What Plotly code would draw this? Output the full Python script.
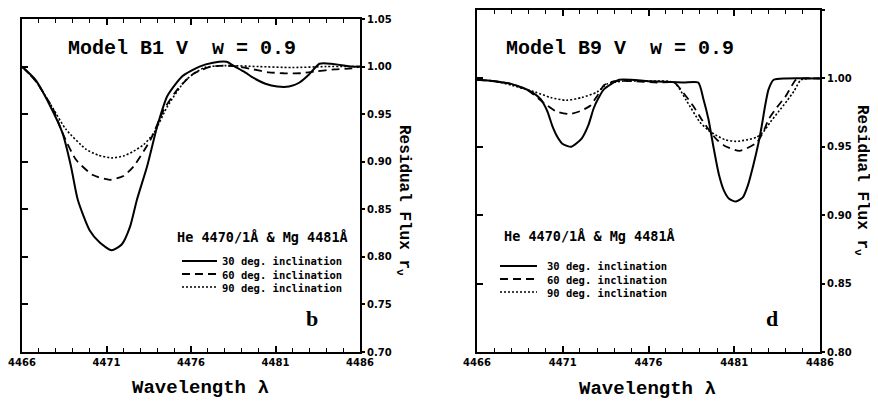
import plotly.graph_objects as go

# ---------------- data ----------------
b1_x30 = [4466.0, 4466.8, 4467.6, 4468.4, 4468.9, 4469.3, 4470.0, 4470.6, 4471.3, 4471.9, 4472.4, 4472.8,
          4473.4, 4474.0, 4474.6, 4475.5, 4476.5, 4477.3, 4478.1, 4478.6, 4479.2, 4479.7, 4480.4, 4481.1,
          4481.8, 4482.4, 4483.0, 4483.6, 4484.3, 4485.5, 4486.0]
b1_y30 = [1.000, 0.986, 0.961, 0.930, 0.895, 0.860, 0.828, 0.815, 0.807, 0.813, 0.832, 0.860,
          0.895, 0.937, 0.969, 0.990, 1.000, 1.004, 1.005, 1.000, 0.994, 0.988, 0.982, 0.979,
          0.979, 0.983, 0.992, 1.003, 1.003, 1.000, 1.000]
b1_x60 = [4466.0, 4466.8, 4467.85, 4468.4, 4469.2, 4470.2, 4471.2, 4472.0, 4472.6, 4473.6, 4474.4, 4475.2,
          4476.1, 4477.2, 4478.0, 4478.8, 4479.7, 4480.6, 4481.5, 4482.5, 4483.4, 4484.5, 4485.5, 4486.0]
b1_y60 = [1.000, 0.985, 0.955, 0.930, 0.902, 0.886, 0.881, 0.885, 0.895, 0.923, 0.955, 0.976,
          0.992, 1.000, 1.001, 1.000, 0.997, 0.994, 0.993, 0.993, 0.995, 0.997, 0.998, 1.000]
b1_x90 = [4466.0, 4466.8, 4467.8, 4468.6, 4469.8, 4470.5, 4471.3, 4472.0, 4472.6, 4473.2, 4473.8, 4474.6,
          4475.7, 4476.8, 4478.0, 4480.0, 4482.0, 4484.0, 4486.0]
b1_y90 = [1.000, 0.985, 0.957, 0.934, 0.913, 0.907, 0.904, 0.906, 0.911, 0.918, 0.930, 0.958,
          0.986, 0.999, 1.001, 1.000, 0.999, 1.000, 1.000]

b9_x30 = [4466.0, 4467.0, 4468.0, 4468.7, 4469.2, 4469.7, 4470.1, 4470.4, 4470.7, 4471.0, 4471.5, 4472.1,
          4472.5, 4472.8, 4473.1, 4473.4, 4474.3, 4476.0, 4478.0, 4478.9, 4479.2, 4479.5, 4479.8, 4480.1,
          4480.4, 4480.7, 4481.1, 4481.5, 4481.8, 4482.1, 4482.4, 4482.6, 4482.8, 4483.0, 4483.3, 4484.0, 4486.0]
b9_y30 = [0.999, 0.998, 0.996, 0.993, 0.990, 0.985, 0.976, 0.965, 0.957, 0.952, 0.950, 0.956,
          0.966, 0.978, 0.986, 0.992, 0.999, 0.998, 0.997, 0.997, 0.985, 0.970, 0.949, 0.930,
          0.918, 0.912, 0.910, 0.913, 0.922, 0.936, 0.952, 0.965, 0.980, 0.992, 0.999, 1.000, 1.000]
b9_x60 = [4466.0, 4467.0, 4468.0, 4469.0, 4469.9, 4470.6, 4471.4, 4472.0, 4472.6, 4473.0, 4473.4, 4474.0,
          4475.0, 4476.5, 4477.5, 4478.0, 4478.6, 4479.1, 4479.6, 4480.0, 4480.4, 4481.3, 4482.3, 4482.7,
          4483.0, 4483.5, 4484.0, 4484.6, 4485.0, 4486.0]
b9_y60 = [0.999, 0.998, 0.996, 0.991, 0.982, 0.976, 0.974, 0.976, 0.980, 0.987, 0.995, 0.998,
          0.998, 0.997, 0.997, 0.990, 0.980, 0.970, 0.961, 0.955, 0.951, 0.947, 0.953, 0.961,
          0.970, 0.979, 0.987, 0.999, 1.000, 1.000]
b9_x90 = [4466.0, 4467.0, 4468.0, 4469.4, 4470.3, 4471.2, 4472.1, 4473.0, 4473.6, 4474.5, 4476.0, 4477.5,
          4478.2, 4479.0, 4479.5, 4480.0, 4480.5, 4481.1, 4481.7, 4482.3, 4482.7, 4483.1, 4483.6, 4484.1,
          4484.5, 4484.9, 4486.0]
b9_y90 = [0.999, 0.998, 0.995, 0.990, 0.986, 0.984, 0.986, 0.990, 0.996, 0.998, 0.998, 0.997,
          0.984, 0.968, 0.962, 0.958, 0.955, 0.954, 0.955, 0.957, 0.961, 0.968, 0.976, 0.984,
          0.991, 0.999, 1.000]

x_range = [4466, 4486]
y1_range = [0.70, 1.05]
y2_range = [0.80, 1.05]
series_labels = ["30 deg. inclination", "60 deg. inclination", "90 deg. inclination"]
panel_titles = ["Model B1 V\u00a0\u00a0w\u00a0=\u00a00.9", "Model B9 V\u00a0\u00a0w\u00a0=\u00a00.9"]
panel_letters = ["b", "d"]
line_note = "He 4470/1Å & Mg 4481Å"
x_title = "Wavelength λ"
y_title = "Residual Flux r<sub>ν</sub>"

# ---------------- figure ----------------
# the page body has an 8px margin, so the figure is 870x393 and positions are offset by 8px
OFF = 8
W, H = 878 - OFF, 401 - OFF
def px(x): return (x - OFF) / W
def py(y): return 1 - (y - OFF) / H

dashes = ["solid", "8px,5px", "2px,2px"]
widths = [2.0, 1.8, 1.6]

fig = go.Figure()
panels = [
    ("x", "y", [(b1_x30, b1_y30), (b1_x60, b1_y60), (b1_x90, b1_y90)]),
    ("x2", "y2", [(b9_x30, b9_y30), (b9_x60, b9_y60), (b9_x90, b9_y90)]),
]
for xa, ya, curves in panels:
    for i, (xs, ys) in enumerate(curves):
        fig.add_trace(go.Scatter(x=xs, y=ys, xaxis=xa, yaxis=ya, mode="lines",
                                 line=dict(color="black", width=widths[i], dash=dashes[i],
                                           shape="spline", smoothing=0.6),
                                 name=series_labels[i], showlegend=False, hoverinfo="skip"))

tickfont = dict(family="DejaVu Sans", size=10, color="black", weight="bold")
xcommon = dict(range=x_range, tickmode="linear", tick0=4466, dtick=5, ticks="inside",
               ticklen=6, tickwidth=1.5, tickcolor="black", mirror="ticks", showline=True,
               linecolor="black", linewidth=2, showgrid=False, zeroline=False, tickfont=tickfont,
               automargin=False,
               minor=dict(tick0=4466, dtick=1, ticks="inside", ticklen=4, tickwidth=1.2,
                          tickcolor="black", showgrid=False))
ycommon = dict(side="right", ticks="outside", ticklen=3, tickwidth=1.5, tickcolor="black",
               showline=True, linecolor="black", linewidth=2, mirror=True, showgrid=False,
               zeroline=False, tickfont=tickfont, tickformat=".2f", tickmode="linear",
               dtick=0.05, automargin=False)
yinner = dict(side="left", ticks="inside", ticklen=6, tickwidth=1.5, tickcolor="black",
              showticklabels=False, showline=False, showgrid=False, zeroline=False,
              tickmode="linear", dtick=0.05, automargin=False)

fig.update_layout(
    width=W, height=H, margin=dict(l=0, r=0, t=0, b=0, autoexpand=False),
    paper_bgcolor="white", plot_bgcolor="white", showlegend=False,
    xaxis=dict(domain=[px(22), px(360)], anchor="y", **xcommon),
    xaxis2=dict(domain=[px(477), px(820)], anchor="y2", **xcommon),
    yaxis=dict(domain=[py(352), py(19)], anchor="x", range=y1_range, tick0=0.70, **ycommon),
    yaxis2=dict(domain=[py(352), py(10)], anchor="x2", range=y2_range, tick0=0.80, **ycommon),
    yaxis3=dict(overlaying="y", anchor="x", range=y1_range, tick0=0.70, **yinner),
    yaxis4=dict(overlaying="y2", anchor="x2", range=y2_range, tick0=0.80, **yinner),
)
fig.add_trace(go.Scatter(x=[4466], y=[1.0], xaxis="x", yaxis="y3", mode="lines",
                         showlegend=False, hoverinfo="skip"))
fig.add_trace(go.Scatter(x=[4466], y=[1.0], xaxis="x2", yaxis="y4", mode="lines",
                         showlegend=False, hoverinfo="skip"))

mono_serif = "Liberation Mono"
title_font = dict(family=mono_serif, size=20, color="black", weight="bold")
note_font = dict(family="DejaVu Sans Mono", size=13.5, color="black", weight="bold")
leg_font = dict(family="DejaVu Sans Mono", size=10.5, color="black", weight="bold")

panel_geo = [
    dict(title=(182, 48), xtitle=(200, 388), ytitle=(403, 200), letter=(312, 318), note=(175, 237),
         leg_x=(182, 217), leg_y=[261, 274, 287], leg_tx=220),
    dict(title=(620, 48), xtitle=(647, 389), ytitle=(862, 180), letter=(772, 318), note=(502, 236),
         leg_x=(500, 537), leg_y=[266, 279, 292], leg_tx=545),
]
for k, g in enumerate(panel_geo):
    fig.add_annotation(x=px(g["title"][0]), y=py(g["title"][1]), xref="paper", yref="paper",
                       text=panel_titles[k], showarrow=False, font=title_font,
                       xanchor="center", yanchor="middle")
    fig.add_annotation(x=px(g["xtitle"][0]), y=py(g["xtitle"][1]), xref="paper", yref="paper",
                       text=x_title, showarrow=False,
                       font=dict(family=mono_serif, size=19, color="black", weight="bold"),
                       xanchor="center", yanchor="middle")
    fig.add_annotation(x=px(g["ytitle"][0]), y=py(g["ytitle"][1]), xref="paper", yref="paper",
                       text=y_title, showarrow=False, textangle=90,
                       font=dict(family=mono_serif, size=16, color="black", weight="bold"),
                       xanchor="center", yanchor="middle")
    fig.add_annotation(x=px(g["letter"][0]), y=py(g["letter"][1]), xref="paper", yref="paper",
                       text=panel_letters[k], showarrow=False,
                       font=dict(family="Liberation Serif", size=22, color="black", weight="bold"),
                       xanchor="center", yanchor="middle")
    fig.add_annotation(x=px(g["note"][0]), y=py(g["note"][1]), xref="paper", yref="paper",
                       text=line_note, showarrow=False, font=note_font, xanchor="left", yanchor="middle")
    for i in range(3):
        yy = py(g["leg_y"][i])
        fig.add_shape(type="line", xref="paper", yref="paper", x0=px(g["leg_x"][0]), x1=px(g["leg_x"][1]),
                      y0=yy, y1=yy, line=dict(color="black", width=widths[i], dash=dashes[i]))
    fig.add_annotation(x=px(g["leg_tx"]), y=py(g["leg_y"][1]), xref="paper", yref="paper",
                       text="<br>".join(series_labels), showarrow=False, font=leg_font,
                       xanchor="left", yanchor="middle", align="left")

fig.write_html("out.html")
